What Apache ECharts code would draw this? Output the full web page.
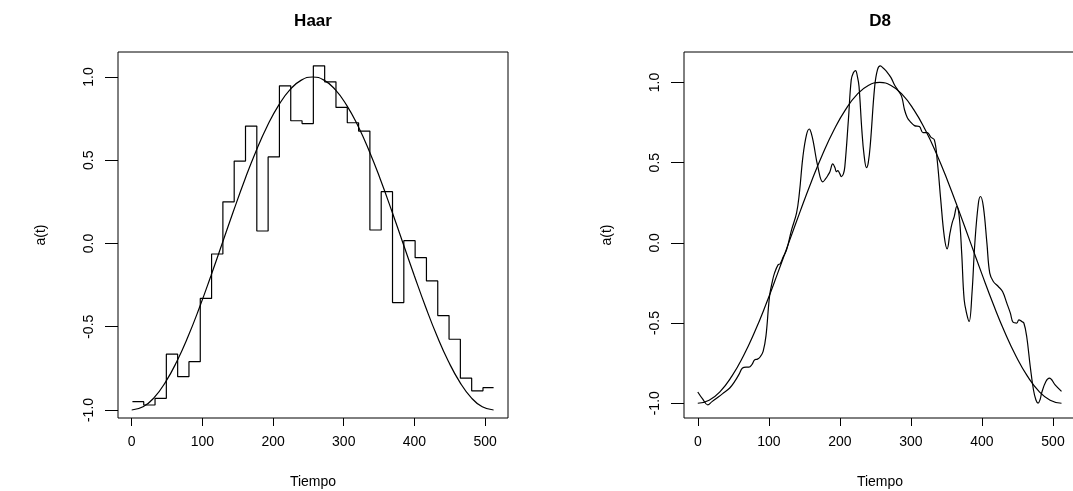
<!DOCTYPE html>
<html>
<head>
<meta charset="utf-8">
<script src="https://cdn.jsdelivr.net/npm/echarts@6/dist/echarts.min.js"></script>
<style>
html,body{margin:0;padding:0;background:#fff;overflow:hidden;}
#c{width:1073px;height:491px;}
</style>
</head>
<body>
<div id="c"></div>
<script>
// ---- data ----
var titles = ['Haar', 'D8'];
var xTicks = [0, 100, 200, 300, 400, 500];
var yTicks = [-1.0, -0.5, 0.0, 0.5, 1.0];
var segLen = 16;
var haarValues = [-0.95, -0.97, -0.93, -0.665, -0.80, -0.71, -0.33, -0.063,
  0.25, 0.495, 0.705, 0.075, 0.52, 0.947, 0.737, 0.72,
  1.067, 0.971, 0.817, 0.725, 0.675, 0.081, 0.311, -0.355,
  0.017, -0.085, -0.225, -0.433, -0.575, -0.809, -0.885, -0.866];
var trueT = [0,16,32,48,64,80,96,112,128,144,160,176,192,208,224,240,256,
  272,288,304,320,336,352,368,384,400,416,432,448,464,480,496,512];
var trueV = [-1.000,-0.981,-0.924,-0.831,-0.707,-0.556,-0.383,-0.195,0.000,
  0.195,0.383,0.556,0.707,0.831,0.924,0.981,1.000,0.981,0.924,0.831,0.707,
  0.556,0.383,0.195,0.000,-0.195,-0.383,-0.556,-0.707,-0.831,-0.924,-0.981,-1.000];
var d8T = [0,7,14,20,26,35,45,52,58,63,68,72,76,80,84,88,92,96,101,105,108,113,116,120,125,
  132,139,143,148,153,157,160,163,169,176,180,183,186,190,193,195,197,200,202,205,207,
  212,216,219,222,225,227,231,234,237.5,240,243,249,253,257,261,266,272,277,282,287,291,
  295,299,305,312,317,323,328,333,337,342,347,351,355,358,361,364.5,368,371.5,375,379,
  382,386,390,395,398,402,407,411,416,423,429,435,440,444,449,452,456,459,463,468,472.5,
  476,479,482,484,490,495,503,512];
var d8V = [-0.93,-0.975,-1.01,-0.99,-0.97,-0.94,-0.905,-0.864,-0.82,-0.78,-0.775,-0.775,-0.76,
  -0.73,-0.725,-0.71,-0.677,-0.58,-0.334,-0.24,-0.189,-0.137,-0.13,-0.09,-0.044,
  0.081,0.185,0.31,0.538,0.673,0.71,0.68,0.62,0.475,0.38,0.40,0.42,0.444,0.492,0.47,0.444,
  0.45,0.43,0.413,0.43,0.475,0.766,1.016,1.06,1.074,1.03,0.974,0.70,0.55,0.469,0.50,0.62,
  0.974,1.08,1.103,1.09,1.067,1.03,0.984,0.95,0.912,0.83,0.78,0.756,0.731,0.725,0.687,
  0.687,0.659,0.642,0.517,0.268,0.039,-0.037,0.06,0.123,0.164,0.226,0.164,-0.064,-0.355,
  -0.45,-0.49,-0.313,-0.002,0.247,0.289,0.226,-0.002,-0.189,-0.241,-0.272,-0.303,-0.376,
  -0.438,-0.496,-0.5,-0.48,-0.49,-0.5,-0.584,-0.771,-0.916,-0.98,-0.999,-0.975,-0.936,
  -0.864,-0.843,-0.885,-0.926];

// ---- build ----
function zip(a, b) { return a.map(function (v, i) { return [v, b[i]]; }); }
var haarData = haarValues.map(function (v, i) { return [i * segLen + 1, v]; });
haarData.push([512, haarValues[haarValues.length - 1]]);

var FONT = 'Liberation Sans';
function xAx(gi) {
  return {
    type: 'value', gridIndex: gi, min: -19.4, max: 532.4,
    name: 'Tiempo', nameLocation: 'middle', nameGap: 57,
    nameTextStyle: { fontFamily: FONT, fontSize: 14, color: '#000' },
    axisLine: { show: false, onZero: false },
    axisTick: { show: true, length: 8, customValues: xTicks, lineStyle: { color: '#000' } },
    axisLabel: { customValues: xTicks, margin: 17, fontFamily: FONT, fontSize: 14, color: '#000' },
    splitLine: { show: false }
  };
}
function yAx(gi, mn, mx) {
  return {
    type: 'value', gridIndex: gi, min: mn, max: mx,
    name: 'a(t)', nameLocation: 'middle', nameGap: 70, nameRotate: 90,
    nameTextStyle: { fontFamily: FONT, fontSize: 14, color: '#000' },
    axisLine: { show: false, onZero: false },
    axisTick: { show: true, length: 13, customValues: yTicks, lineStyle: { color: '#000' } },
    axisLabel: { customValues: yTicks, rotate: 90, margin: 22, fontFamily: FONT, fontSize: 14, color: '#000',
      formatter: function (v) { return v.toFixed(1); } },
    splitLine: { show: false }
  };
}
var ls = { color: '#000', width: 1.2 };
var chart = echarts.init(document.getElementById('c'), null, { renderer: 'canvas' });
chart.setOption({
  animation: false,
  backgroundColor: '#fff',
  title: [
    { text: titles[0], left: 313, top: 13, textAlign: 'center', padding: 0,
      textStyle: { fontFamily: FONT, fontSize: 17, fontWeight: 'bold', color: '#000' } },
    { text: titles[1], left: 880, top: 13, textAlign: 'center', padding: 0,
      textStyle: { fontFamily: FONT, fontSize: 17, fontWeight: 'bold', color: '#000' } }
  ],
  grid: [
    { left: 118, right: 565, top: 52, bottom: 73, show: true, borderColor: '#000', borderWidth: 1,
      backgroundColor: 'transparent', containLabel: false, outerBoundsMode: 'none' },
    { left: 684, right: -3, top: 52, bottom: 73, show: true, borderColor: '#000', borderWidth: 1,
      backgroundColor: 'transparent', containLabel: false, outerBoundsMode: 'none' }
  ],
  xAxis: [xAx(0), xAx(1)],
  yAxis: [yAx(0, -1.048, 1.15), yAx(1, -1.092, 1.19)],
  series: [
    { type: 'line', xAxisIndex: 0, yAxisIndex: 0, data: haarData, step: 'end', showSymbol: false, lineStyle: ls },
    { type: 'line', xAxisIndex: 0, yAxisIndex: 0, data: zip(trueT, trueV), smooth: true, showSymbol: false, lineStyle: ls },
    { type: 'line', xAxisIndex: 1, yAxisIndex: 1, data: zip(d8T, d8V), smooth: 0.4, showSymbol: false, lineStyle: ls },
    { type: 'line', xAxisIndex: 1, yAxisIndex: 1, data: zip(trueT, trueV), smooth: true, showSymbol: false, lineStyle: ls }
  ]
});
</script>
</body>
</html>
